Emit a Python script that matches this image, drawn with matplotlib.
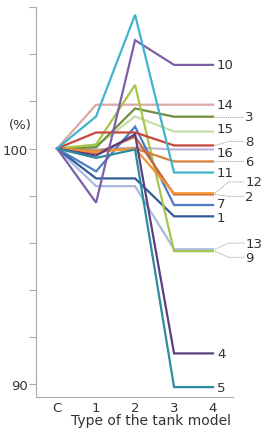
import matplotlib
matplotlib.use("Agg")
import matplotlib.pyplot as plt

categories = ["C", "1", "2", "3", "4"]

series_names = ["10", "14", "3", "15", "8", "16", "6", "11", "12", "2", "7", "1", "13", "9", "4", "5"]
series_values = {
    "10": [100, 97.7, 104.6, 103.55, 103.55],
    "11": [100, 101.36, 105.68, 98.98, 98.98],
    "14": [100, 101.86, 101.86, 101.86, 101.86],
    "3":  [100, 100.05, 101.7, 101.35, 101.35],
    "9":  [100, 100.17, 102.7, 95.64, 95.64],
    "15": [100, 100.1, 101.36, 100.72, 100.72],
    "8":  [100, 100.68, 100.68, 100.13, 100.13],
    "16": [100, 99.96, 100.04, 99.96, 99.96],
    "6":  [100, 99.9, 100.0, 99.45, 99.45],
    "12": [100, 99.85, 100.0, 98.1, 98.1],
    "2":  [100, 99.8, 100.5, 98.05, 98.05],
    "7":  [100, 99.03, 100.93, 97.6, 97.6],
    "1":  [100, 98.73, 98.73, 97.12, 97.12],
    "13": [100, 98.4, 98.4, 95.72, 95.72],
    "4":  [100, 99.7, 100.6, 91.3, 91.3],
    "5":  [100, 99.6, 99.96, 89.87, 89.87],
}
draw_order = ["16", "13", "15", "14", "1", "7", "3", "9", "6", "2", "12", "8", "4", "5", "10", "11"]

colors = {
    "10": "#7d5fa8", "11": "#3fb4cc", "14": "#dba8a8", "3": "#6f8f3a",
    "9": "#a6c64b", "15": "#c8dca8", "8": "#c8463c", "16": "#c0b4dc",
    "6": "#d6813a", "12": "#f59436", "2": "#c8643c", "7": "#4c7cc4",
    "1": "#2f5b96", "13": "#a9bade", "4": "#5b3f80", "5": "#2a8c9c",
}

# label placement (y in data units, whether a leader line is used)
label_y = {
    "10": 103.55, "14": 101.86, "3": 101.35, "15": 100.87, "8": 100.3,
    "16": 99.83, "6": 99.45, "11": 98.98, "12": 98.58, "2": 97.97,
    "7": 97.67, "1": 97.07, "13": 95.98, "9": 95.38, "4": 91.3, "5": 89.87,
}
leader = {"3", "8", "6", "12", "2", "13", "9"}

fig = plt.figure(figsize=(2.65, 4.31), dpi=100)
ax = fig.add_axes([0.136, 0.0766, 0.743, 0.9044])

x = list(range(len(categories)))
for name in draw_order:
    ax.plot(x, series_values[name], color=colors[name], lw=1.6, solid_joinstyle="miter", zorder=3)

txt_color = "#333333"
for name in series_names:
    yend = series_values[name][-1]
    ly = label_y[name]
    if name in leader:
        if abs(ly - yend) > 0.05:
            xs, ys = [4.05, 4.4, 4.8], [yend, ly, ly]
        else:
            xs, ys = [4.05, 4.8], [yend, ly]
        ax.plot(xs, ys, color="#999999", lw=0.6, ls=(0, (1.5, 1)), clip_on=False, zorder=2)
        ax.text(4.83, ly, name, fontsize=9.5, color=txt_color, va="center", ha="left", clip_on=False)
    else:
        ax.text(4.1, ly, name, fontsize=9.5, color=txt_color, va="center", ha="left", clip_on=False)

ax.set_xlim(-0.54, 4.51)
ax.set_ylim(89.45, 106)
ax.set_yticks([90, 92, 94, 96, 98, 100, 102, 104, 106])
ax.set_yticklabels(["90", "", "", "", "", "100", "", "", ""])
ax.set_xticks(x)
ax.set_xticklabels(categories)
ax.tick_params(axis="x", length=0, labelsize=9.5, labelcolor=txt_color, pad=3)
ax.tick_params(axis="y", length=5, width=0.8, color="#aaaaaa", labelsize=9.5, labelcolor=txt_color, pad=1)
for s in ["top", "right"]:
    ax.spines[s].set_visible(False)
for s in ["left", "bottom"]:
    ax.spines[s].set_color("#aaaaaa")
    ax.spines[s].set_linewidth(0.8)

ax.text(-0.95, 101.0, "(%)", fontsize=9.5, color=txt_color, ha="center", va="center")
ax.set_xlabel("Type of the tank model", fontsize=10, color=txt_color, va="center")
ax.xaxis.set_label_coords(0.584, -0.06, transform=ax.transAxes)

fig.savefig("out.png", dpi=100)
